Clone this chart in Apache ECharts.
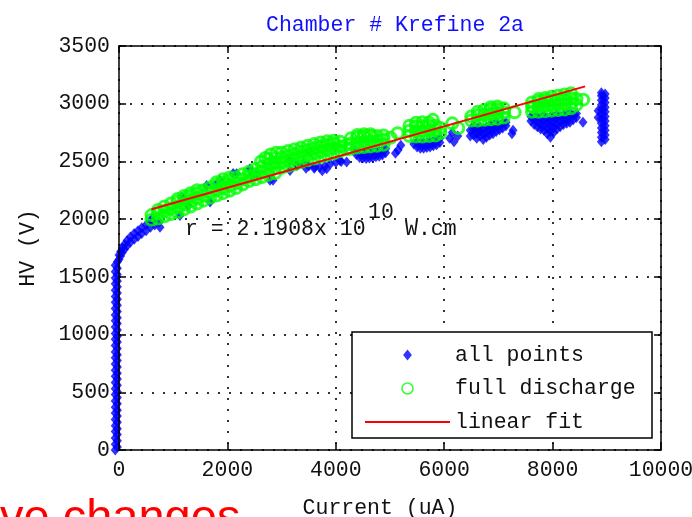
<!DOCTYPE html>
<html>
<head>
<meta charset="utf-8">
<script src="https://cdn.jsdelivr.net/npm/echarts@6/dist/echarts.min.js"></script>
<style>
  html, body { margin: 0; padding: 0; background: #fff; }
  #chart { width: 692px; height: 517px; }
</style>
</head>
<body>
<div id="chart"></div>
<script>
// Axis ranges (uA on x, volts on y)
const xMin = 0, xMax = 10000, xStep = 2000;
const yMin = 0, yMax = 3500, yStep = 500;

// "all points": readings grouped as [current, [HV values...]]
const blueRise = [
  [-70, [0, 50, 105, 160, 210, 265, 320, 370, 425, 480, 530, 585, 640, 690, 745, 800, 850, 905, 960, 1010, 1065, 1120, 1170, 1225, 1280, 1330, 1385, 1440, 1490, 1545, 1600]],
  [-30, [25, 80, 135, 185, 240, 295, 345, 400, 455, 505, 560, 615, 665, 720, 775, 825, 880, 935, 985, 1040, 1095, 1145, 1200, 1255, 1305, 1360, 1415, 1465, 1520, 1575, 1630]],
  [0, [1650, 1690]],
  [30, [1680, 1720]],
  [60, [1710, 1750]],
  [100, [1740, 1780]],
  [150, [1770, 1815]],
  [210, [1800, 1845]],
  [280, [1825, 1875]],
  [350, [1850, 1900]],
  [420, [1875, 1925]],
  [500, [1900, 1950]],
  [580, [1930, 1975]],
  [660, [1950, 1995]],
  [740, [1975]]
];

// "all points": individual readings along the early plateau
const blueScatter = [
  [603, 2004], [620, 1970], [756, 1930], [1125, 2032], [1157, 2190], [1180, 2180],
  [1275, 2119], [1618, 2292], [1680, 2148], [1803, 2307], [1864, 2336], [2107, 2396],
  [2171, 2393], [2417, 2437], [2448, 2379], [2540, 2393], [2786, 2336], [2841, 2336],
  [3155, 2509], [3155, 2422], [3278, 2466], [3524, 2581], [3616, 2451], [3832, 2437],
  [3985, 2624], [4077, 2509], [4200, 2494], [4354, 2596],
  [3300, 2470], [3400, 2480], [3500, 2460], [3600, 2440], [3700, 2450], [3800, 2460],
  [3900, 2480], [4000, 2490], [4100, 2500], [3450, 2440], [3750, 2420],
  [5150, 2600], [5200, 2640], [5100, 2570],
  [6100, 2700], [6180, 2670], [6250, 2720], [6150, 2750],
  [7270, 2770], [7250, 2740], [8560, 2840]
];

// "all points": readings below the full-discharge groups, as [current, [HV values...]]
const blueGroups = [
  [4380, [2560]], [4440, [2535, 2575]], [4500, [2530, 2575]], [4560, [2525, 2570]],
  [4620, [2530, 2575]], [4680, [2535, 2580]], [4740, [2540, 2585]], [4800, [2545, 2590]],
  [4860, [2555, 2595]], [4920, [2575, 2610]],
  [5440, [2650]], [5500, [2625, 2665]], [5560, [2615, 2660]], [5620, [2615, 2660]],
  [5680, [2620, 2665]], [5740, [2625, 2670]], [5800, [2635, 2675]], [5860, [2645, 2685]],
  [5920, [2665, 2700]],
  [6480, [2720, 2770]], [6540, [2730, 2780, 2810]], [6600, [2700, 2745, 2790]],
  [6660, [2720, 2765, 2800]], [6720, [2690, 2735, 2780]], [6780, [2710, 2755, 2800]],
  [6840, [2730, 2775, 2815]], [6900, [2740, 2785, 2820]], [6960, [2760, 2800, 2830]],
  [7020, [2775, 2815]], [7080, [2790, 2830]], [7140, [2810, 2840]],
  [7600, [2850, 2890]], [7660, [2820, 2860, 2900]], [7720, [2800, 2845, 2890]],
  [7780, [2780, 2825, 2870]], [7840, [2770, 2815, 2860, 2900]], [7900, [2740, 2785, 2830, 2875]],
  [7960, [2710, 2760, 2805, 2850, 2890]], [8020, [2750, 2795, 2840, 2885]],
  [8080, [2780, 2825, 2870, 2905]], [8140, [2800, 2845, 2890]], [8200, [2820, 2865, 2905]],
  [8260, [2830, 2875, 2910]], [8320, [2840, 2885, 2915]], [8380, [2860, 2900]],
  [8440, [2880, 2915]]
];

// "all points": the last run near 9 mA
const blueColumn = [
  [8840, [2880, 2940]],
  [8900, [2670, 2710, 2750, 2790, 2830, 2870, 2910, 2950, 2990, 3030, 3070, 3095]],
  [8970, [2690, 2730, 2770, 2810, 2850, 2890, 2930, 2970, 3010, 3050, 3085]]
];

// "full discharge": readings grouped as [current, [HV values...]]
const greenCols = [
  [600, [1995, 2035]],
  [720, [2005, 2050, 2080]],
  [840, [2025, 2070, 2110]],
  [960, [2045, 2090, 2135]],
  [1080, [2060, 2105, 2150, 2175]],
  [1200, [2085, 2130, 2175, 2200]],
  [1320, [2110, 2155, 2200, 2225]],
  [1440, [2135, 2180, 2225, 2250]],
  [1560, [2160, 2205, 2250]],
  [1680, [2185, 2230, 2275]],
  [1800, [2205, 2250, 2295, 2320]],
  [1920, [2225, 2270, 2315, 2345]],
  [2040, [2245, 2290, 2335, 2360]],
  [2160, [2270, 2315, 2360]],
  [2280, [2300, 2345, 2390]],
  [2400, [2330, 2370, 2410]],
  [2520, [2345, 2390, 2435]],
  [2640, [2365, 2410, 2455]],
  [2760, [2385, 2430, 2475, 2520]],
  [2880, [2400, 2445, 2490, 2530]],
  [3000, [2445, 2490, 2535, 2575]],
  [3120, [2460, 2505, 2550, 2590]],
  [3240, [2475, 2520, 2565, 2605]],
  [3360, [2495, 2540, 2585, 2620]],
  [3480, [2510, 2555, 2600, 2635]],
  [3600, [2525, 2570, 2615, 2650]],
  [3720, [2540, 2585, 2630, 2665]],
  [3840, [2555, 2600, 2645, 2675]],
  [3960, [2570, 2615, 2655, 2680]],
  [4080, [2590, 2630, 2670]],
  [4200, [2605, 2645]],
  [4280, [2610, 2655, 2700]],
  [4400, [2620, 2665, 2710, 2730]],
  [4520, [2625, 2670, 2715, 2735]],
  [4640, [2630, 2675, 2720, 2735]],
  [4760, [2635, 2680, 2720]],
  [4880, [2645, 2690, 2725]],
  [5360, [2720, 2765, 2810]],
  [5480, [2715, 2760, 2805, 2835]],
  [5600, [2715, 2760, 2805, 2840]],
  [5720, [2720, 2765, 2810, 2835]],
  [5840, [2725, 2770, 2810]],
  [5930, [2745, 2790]],
  [6500, [2855, 2890]],
  [6620, [2855, 2900, 2930]],
  [6740, [2860, 2905, 2945]],
  [6860, [2865, 2910, 2950, 2970]],
  [6980, [2870, 2915, 2955, 2975]],
  [7100, [2880, 2925, 2960]],
  [7620, [2930, 2975, 3010]],
  [7740, [2930, 2975, 3020, 3040]],
  [7860, [2935, 2980, 3025, 3050]],
  [7980, [2940, 2985, 3030, 3060]],
  [8100, [2945, 2990, 3035, 3070]],
  [8220, [2950, 2995, 3040, 3080]],
  [8340, [2960, 3005, 3050, 3090]],
  [8440, [2990, 3040]]
];

// "full discharge": isolated readings
const greenExtra = [
  [2620, 2500], [2700, 2530], [2800, 2560], [2900, 2575],
  [5010, 2705], [5140, 2745], [5790, 2860], [6150, 2830], [6260, 2790],
  [7300, 2925], [7640, 2968], [8565, 3035]
];

// Linear fit end points
const fitX = [600, 8600];
const fitY = [2085, 3150];

const expand = cols => cols.flatMap(([x, ys]) => ys.map(y => [x, y]));
const bluePoints = expand(blueRise).concat(blueScatter, expand(blueGroups), expand(blueColumn));
const greenPoints = expand(greenCols).concat(greenExtra);
const fitPoints = fitX.map((x, i) => [x, fitY[i]]);

const mono = "'Liberation Mono', 'DejaVu Sans Mono', monospace";
const textColor = '#111';
const fs = 21.5;
const plain = v => String(v);

const boxLine = { show: true, onZero: false, lineStyle: { color: '#000', width: 1.5 } };
const inTick = { show: true, inside: true, length: 7, lineStyle: { color: '#000', width: 1.5 } };
const dotted = { show: true, lineStyle: { color: '#333', width: 2, type: [2, 9] } };

const chart = echarts.init(document.getElementById('chart'), null, { renderer: 'canvas' });
chart.setOption({
  backgroundColor: '#fff',
  animation: false,
  title: {
    text: 'Chamber # Krefine 2a',
    left: 390, top: 9, textAlign: 'center',
    textStyle: { fontFamily: mono, fontSize: fs, fontWeight: 'normal', color: '#1010ff' }
  },
  grid: { left: 119, right: 31, top: 46, bottom: 67, outerBoundsMode: 'none', containLabel: false },
  xAxis: [
    {
      type: 'value', min: xMin, max: xMax, interval: xStep, position: 'bottom', z: 3,
      axisLine: boxLine, axisTick: inTick, splitLine: { show: false },
      axisLabel: { margin: 9, fontFamily: mono, fontSize: fs, color: textColor, formatter: plain },
      name: 'Current (uA)', nameLocation: 'middle', nameGap: 47,
      nameTextStyle: { fontFamily: mono, fontSize: fs, color: textColor, padding: [0, 20, 0, 0] }
    },
    {
      type: 'value', min: xMin, max: xMax, interval: xStep, position: 'top',
      axisLine: boxLine, axisTick: inTick, axisLabel: { show: false }, splitLine: dotted
    }
  ],
  yAxis: [
    {
      type: 'value', min: yMin, max: yMax, interval: yStep, position: 'left', z: 3,
      axisLine: boxLine, axisTick: inTick, splitLine: { show: false },
      axisLabel: { margin: 9, fontFamily: mono, fontSize: fs, color: textColor, formatter: plain },
      name: 'HV (V)', nameLocation: 'middle', nameGap: 80,
      nameTextStyle: { fontFamily: mono, fontSize: fs, color: textColor }
    },
    {
      type: 'value', min: yMin, max: yMax, interval: yStep, position: 'right',
      axisLine: boxLine, axisTick: inTick, axisLabel: { show: false }, splitLine: dotted
    }
  ],
  legend: {
    orient: 'vertical', left: 365, top: 343, padding: 0,
    itemWidth: 85, itemHeight: 11, itemGap: 9.5, z: 5, symbolKeepAspect: true,
    textStyle: { fontFamily: mono, fontSize: fs, color: textColor, lineHeight: 24 },
    data: [
      { name: 'all points', icon: 'path://M4,0L8,5L4,10L0,5Z' },
      { name: 'full discharge', icon: 'circle', itemStyle: { borderWidth: 1.5 } },
      { name: 'linear fit', icon: 'path://M0,0H85V2H0Z' }
    ]
  },
  graphic: [
    {
      type: 'rect', z: 3,
      shape: { x: 352, y: 332, width: 300, height: 106 },
      style: { fill: '#fff', stroke: '#000', lineWidth: 1.5 }
    },
    {
      type: 'text', z: 5, left: 185, top: 218,
      style: { text: 'r = 2.1908x 10', font: fs + 'px ' + mono, fill: textColor }
    },
    {
      type: 'text', z: 5, left: 368, top: 201,
      style: { text: '10', font: fs + 'px ' + mono, fill: textColor }
    },
    {
      type: 'text', z: 5, left: 405, top: 218,
      style: { text: 'W.cm', font: fs + 'px ' + mono, fill: textColor }
    },
    {
      type: 'text', z: 6, x: 0, y: 519,
      style: {
        text: 've changes', font: '47px "Liberation Sans", Arial, sans-serif',
        fill: '#ff0000', verticalAlign: 'middle', align: 'left'
      }
    }
  ],
  series: [
    {
      name: 'all points', type: 'scatter', xAxisIndex: 0, yAxisIndex: 0,
      symbol: 'diamond', symbolSize: [9, 11], clip: false,
      itemStyle: { color: '#0000ff' },
      data: bluePoints
    },
    {
      name: 'full discharge', type: 'scatter', xAxisIndex: 0, yAxisIndex: 0,
      symbol: 'circle', symbolSize: 11,
      itemStyle: { color: 'rgba(0,0,0,0)', borderColor: '#00ff00', borderWidth: 3 },
      data: greenPoints
    },
    {
      name: 'linear fit', type: 'line', xAxisIndex: 0, yAxisIndex: 0,
      symbol: 'none', lineStyle: { color: '#ff0000', width: 2 },
      itemStyle: { color: '#ff0000' },
      data: fitPoints
    }
  ]
});
</script>
</body>
</html>
